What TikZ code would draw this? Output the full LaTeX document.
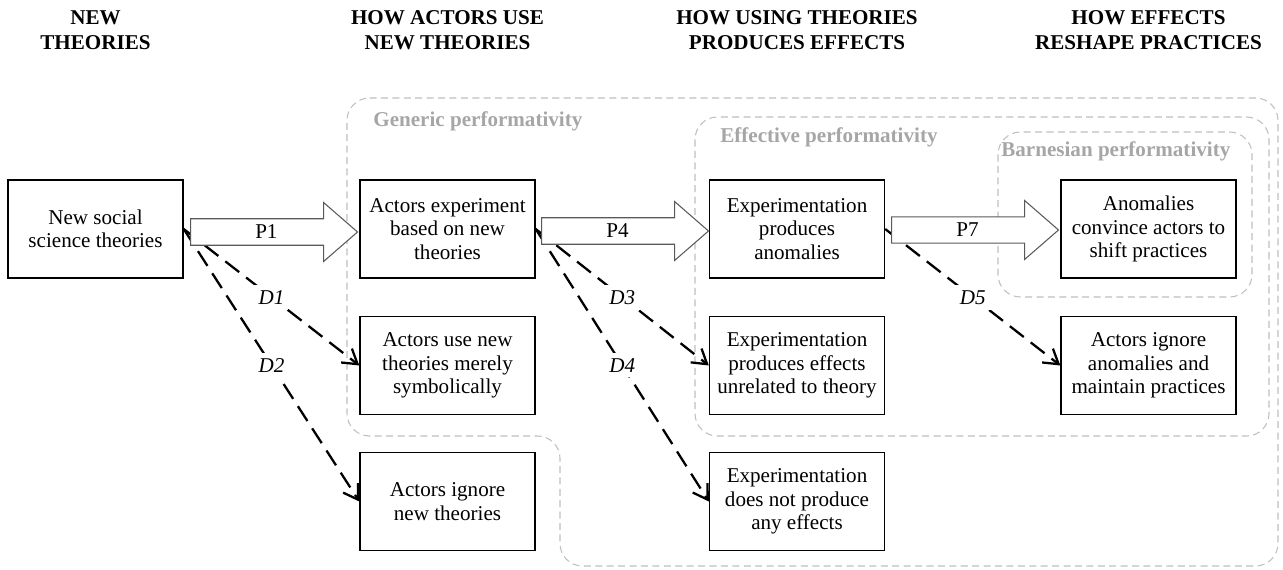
\documentclass[tikz,border=0pt]{standalone}
\usepackage{fontspec}
\setmainfont{Liberation Serif}
\usetikzlibrary{arrows.meta,shapes.arrows}
\definecolor{regiongray}{HTML}{BFBFBF}
\definecolor{labelgray}{HTML}{A6A6A6}
\definecolor{arrowgray}{HTML}{595959}

\begin{document}
\fontsize{12}{13.3}\selectfont
\begin{tikzpicture}[x=0.02cm, y=-0.02cm,
	box/.style={draw, line width=0.8pt, minimum width=3.5cm, minimum height=1.96cm, align=center, inner sep=2pt},
	colhead/.style={align=center, font=\bfseries\fontsize{12}{14.5}\selectfont},
	bigarrow/.style={single arrow, draw=arrowgray, fill=white, line width=0.6pt, minimum height=3.34cm, minimum width=1.18cm, single arrow head extend=0.27cm, single arrow tip angle=82, inner sep=2pt, anchor=tail},
	dline/.style={-{Straight Barb[length=8pt,width=10pt]}, line width=1.3pt, dash pattern=on 10pt off 5pt},
	dlabel/.style={midway, fill=white, inner sep=3pt, font=\itshape},
	region/.style={draw=regiongray, line width=0.6pt, dash pattern=on 4pt off 2.5pt, rounded corners=0.45cm},
	regionlabel/.style={anchor=base west, inner sep=0pt, text=labelgray, font=\bfseries}]
	\useasboundingbox (0,0) rectangle (1283,570);

	% performativity regions
	\draw[region] (347,98) -- (1278,98) -- (1278,566) -- (560,566) -- (560,436) -- (347,436) -- cycle;
	\draw[region] (695,117) rectangle (1269,436);
	\draw[region] (998,132) rectangle (1252,297);
	\node[regionlabel] (lgen) at (373,127) {Generic performativity};
	\node[regionlabel] (leff) at (720,143) {Effective performativity};
	\node[regionlabel] (lbar) at (1001,157) {Barnesian performativity};

	% column heads
	\node[colhead] (h1) at (95.5,30) {NEW\\THEORIES};
	\node[colhead] (h2) at (447.5,30) {HOW ACTORS USE\\NEW THEORIES};
	\node[colhead] (h3) at (797,30) {HOW USING THEORIES\\PRODUCES EFFECTS};
	\node[colhead] (h4) at (1148.5,30) {HOW EFFECTS\\RESHAPE PRACTICES};

	% boxes
	\node[box] (nst) at (95.5,229) {New social\\science theories};
	\node[box] (aexp) at (447.5,229) {Actors experiment\\based on new\\theories};
	\node[box] (asym) at (447.5,365.5) {Actors use new\\theories merely\\symbolically};
	\node[box] (aign) at (447.5,501.5) {Actors ignore\\new theories};
	\node[box] (eanom) at (797,229) {Experimentation\\produces\\anomalies};
	\node[box] (eunrel) at (797,365.5) {Experimentation\\produces effects\\unrelated to theory};
	\node[box] (enone) at (797,501.5) {Experimentation\\does not produce\\any effects};
	\node[box] (ashift) at (1148.5,229) {Anomalies\\convince actors to\\shift practices};
	\node[box] (amaint) at (1148.5,365.5) {Actors ignore\\anomalies and\\maintain practices};

	% deviations
	\draw[dline] (nst.east) -- (asym.west) node[dlabel] {D1};
	\draw[dline] (nst.east) -- (aign.west) node[dlabel] {D2};
	\draw[dline] (aexp.east) -- (eunrel.west) node[dlabel] {D3};
	\draw[dline] (aexp.east) -- (enone.west) node[dlabel] {D4};
	\draw[dline] (eanom.east) -- (amaint.west) node[dlabel] {D5};

	% propositions
	\node[bigarrow] (p1) at (190,232) {P1};
	\node[bigarrow] (p4) at (541,231) {P4};
	\node[bigarrow] (p7) at (891,230) {P7};
\end{tikzpicture}
\end{document}
